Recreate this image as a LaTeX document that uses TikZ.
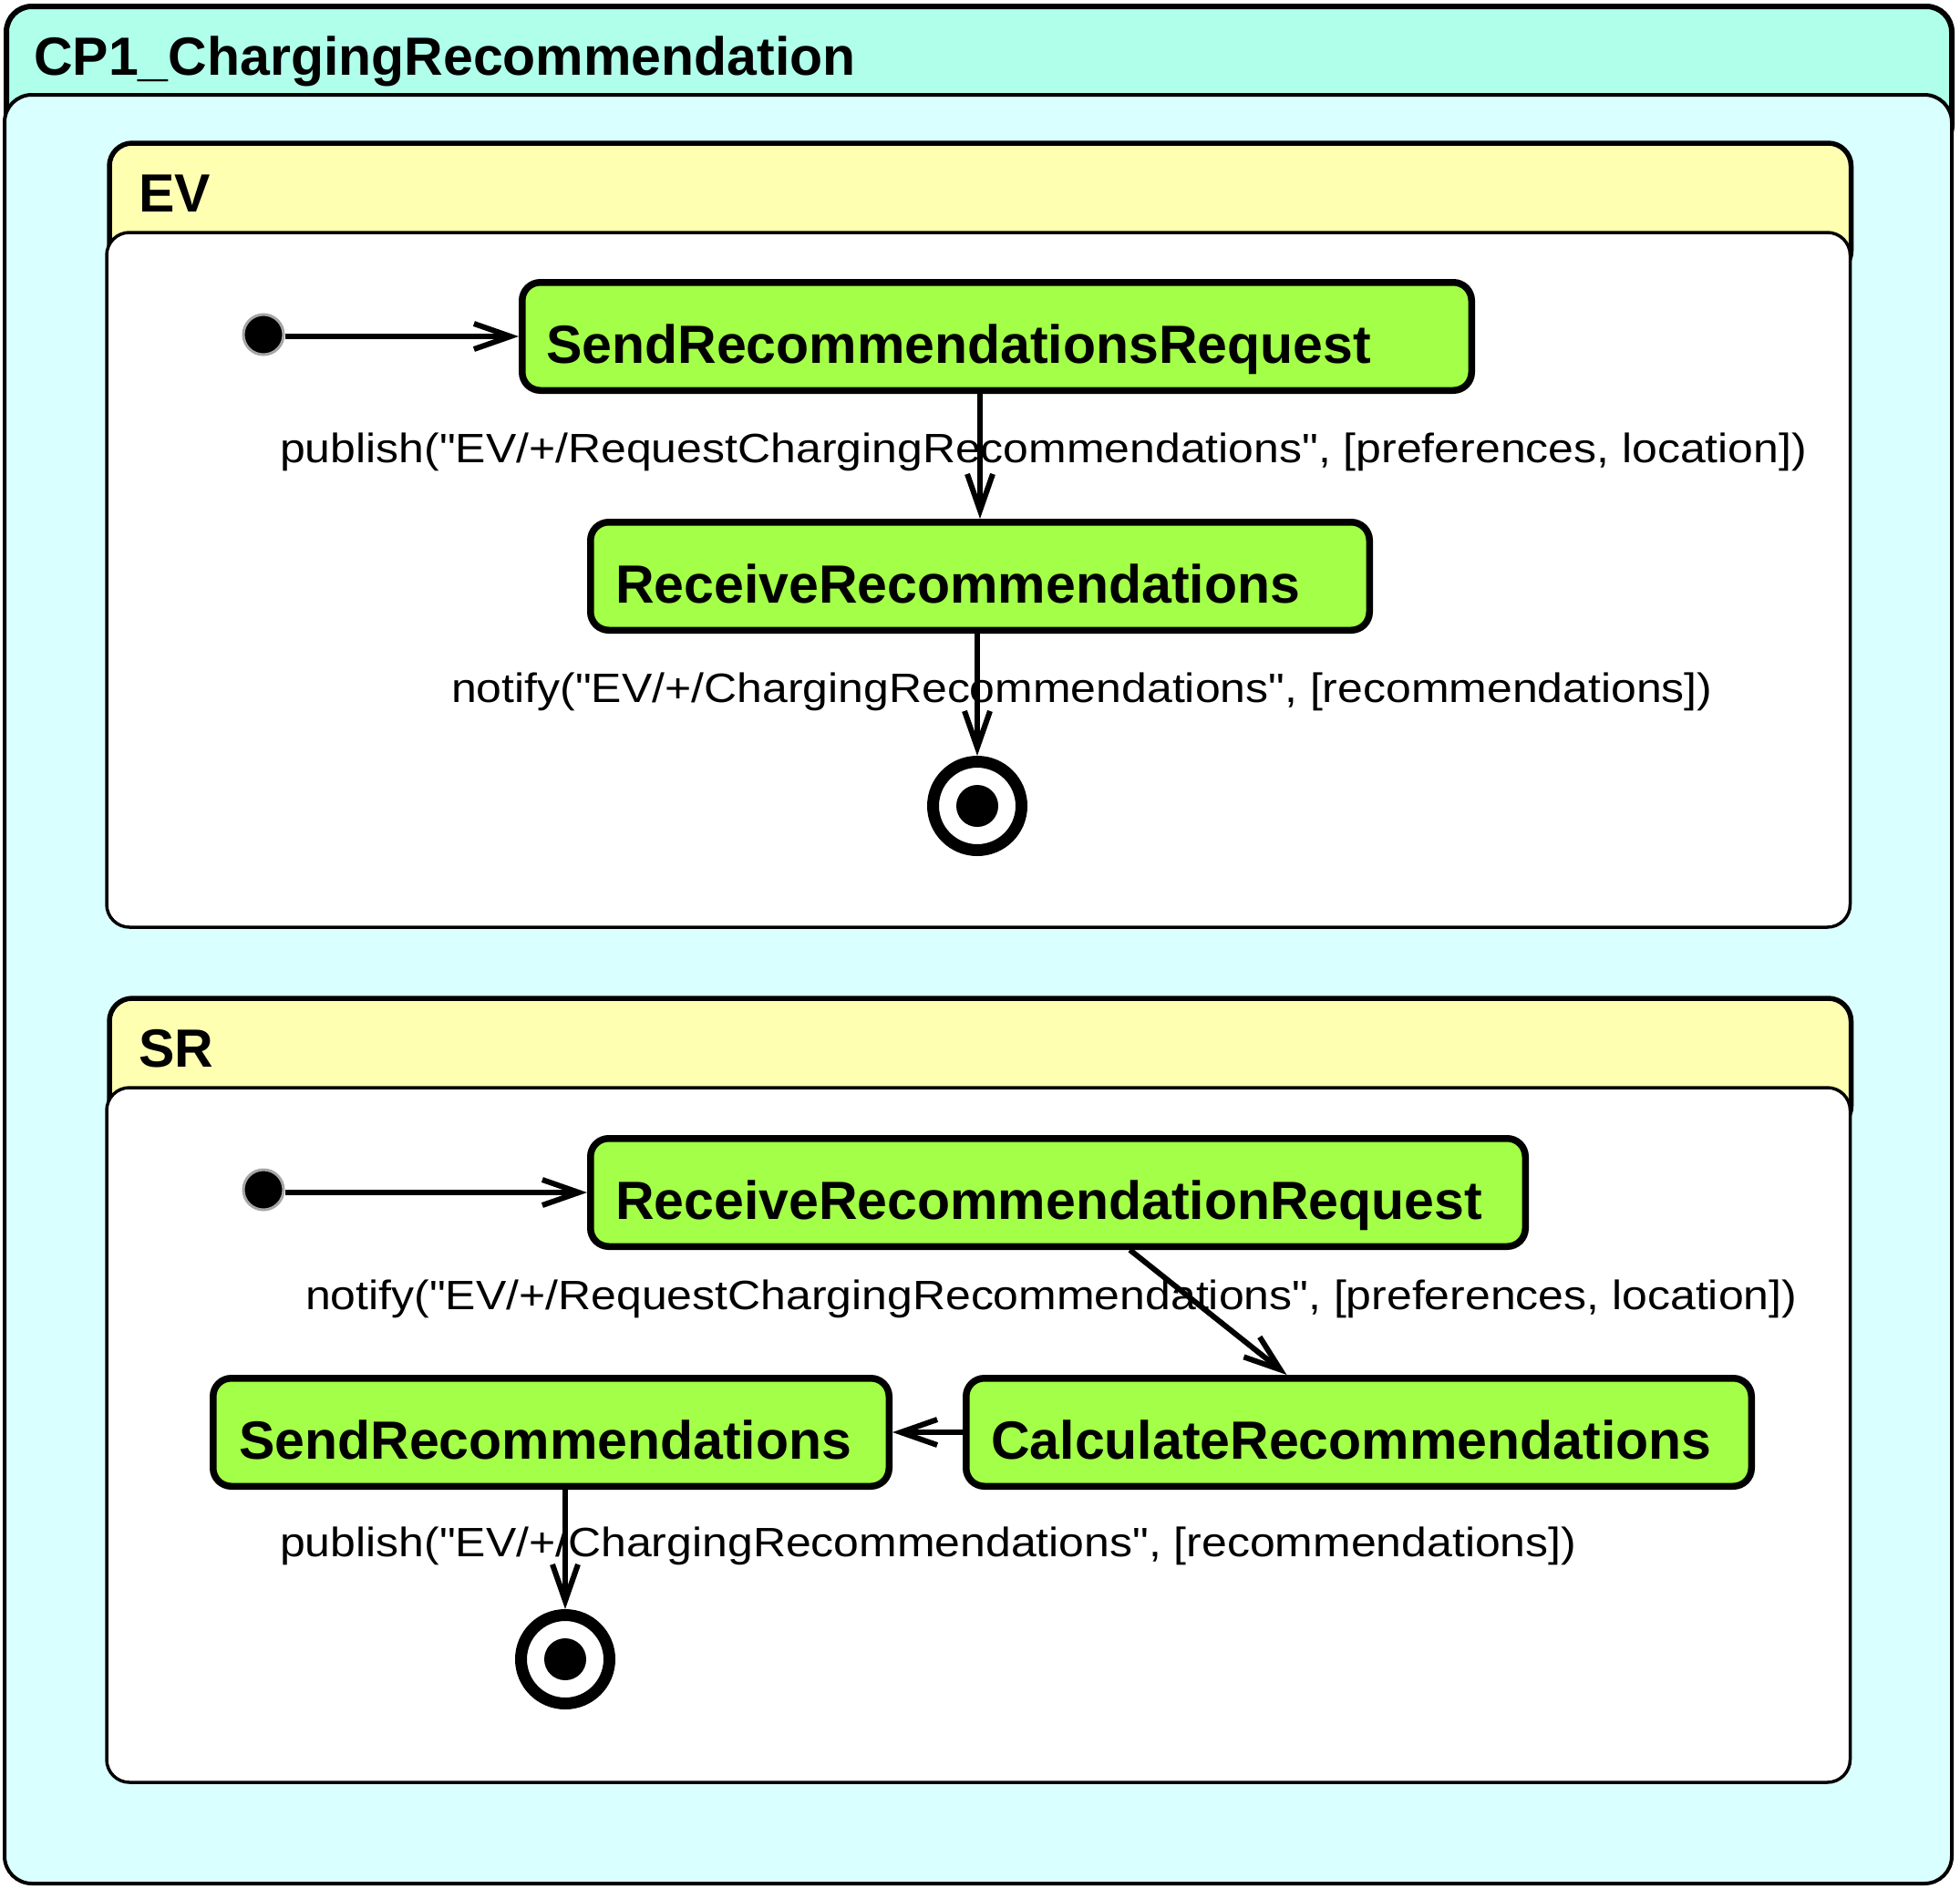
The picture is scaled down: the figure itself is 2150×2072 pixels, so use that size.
\documentclass[tikz,border=0pt]{standalone}
\usepackage{fontspec}
\setmainfont{Liberation Sans}
\newfontfamily\lblfont[FakeStretch=1.11]{Liberation Sans}
\usetikzlibrary{arrows.meta,calc}
\definecolor{hdraqua}{HTML}{AFFFEB}
\definecolor{bodyaqua}{HTML}{DAFFFF}
\definecolor{hdryellow}{HTML}{FFFFB2}
\definecolor{stgreen}{HTML}{A3FF47}
\begin{document}
\begin{tikzpicture}[x=1pt,y=-1pt,
  outerhdr/.style={draw=black,fill=hdraqua,line width=6pt,rounded corners=28pt},
  outerbody/.style={draw=black,fill=bodyaqua,line width=4pt,rounded corners=30pt},
  reghdr/.style={draw=black,fill=hdryellow,line width=5.5pt,rounded corners=25pt},
  regbody/.style={draw=black,fill=white,line width=3.5pt,rounded corners=25pt},
  titletext/.style={inner sep=0pt,anchor=base west,font=\fontsize{59}{70}\selectfont\bfseries},
  statebox/.style={draw=black,fill=stgreen,line width=7.5pt,rounded corners=20pt,inner sep=0pt,anchor=north west,minimum height=118.5pt},
  stlabel/.style={inner sep=0pt,anchor=base west,font=\fontsize{59}{70}\selectfont\bfseries},
  trlabel/.style={inner sep=0pt,anchor=base west,font=\lblfont\fontsize{45}{54}\selectfont},
  initst/.style={circle,fill=black,draw=black!35,line width=3pt,minimum size=44pt,inner sep=0pt},
  finalst/.style={circle,fill=white,draw=black,line width=13pt,minimum size=97pt,inner sep=0pt},
  finaldot/.style={circle,fill=black,minimum size=46pt,inner sep=0pt},
  tr/.style={draw=black,line width=6pt,-{Straight Barb[length=40pt,width=28pt]}}
]
\useasboundingbox (0,0) rectangle (2150,2072);
% outer frame
\draw[outerhdr] (7,7) rectangle (2141,165);
\draw[outerbody] (5,104) rectangle (2141,2066);
\node[titletext] (title) at (37,82) {CP1\_ChargingRecommendation};
% EV region
\draw[reghdr] (120,157) rectangle (2030.5,300);
\draw[regbody] (117,255) rectangle (2029.5,1017);
\node[titletext] (evt) at (152,232) {EV};
% SR region
\draw[reghdr] (120,1095) rectangle (2030.5,1238);
\draw[regbody] (117,1193) rectangle (2029.5,1955);
\node[titletext] (srt) at (152,1170) {SR};

% EV states
\node[statebox,minimum width=1041.5pt] (s1) at (569,306) {};
\node[stlabel] (s1t) at ($(s1.north west)+(30,92)$) {SendRecommendationsRequest};
\node[statebox,minimum width=854.5pt] (r1) at (644,569) {};
\node[stlabel] (r1t) at ($(r1.north west)+(31,92)$) {ReceiveRecommendations};
\node[initst] (i1) at (289,367) {};
\node[finalst] (f1) at (1072,884) {};
\node[finaldot] (f1d) at (f1.center) {};

\draw[tr] (i1.east |- s1.west) -- (s1.west);
\draw[tr] (s1.south -| r1.north) -- (r1.north);
\draw[tr] (r1.south -| f1.north) -- (f1.north);
\node[trlabel] (l1) at (307,507) {publish("EV/+/RequestChargingRecommendations", [preferences, location])};
\node[trlabel] (l2) at (495,770) {notify("EV/+/ChargingRecommendations", [recommendations])};

% SR states
\node[statebox,minimum width=1025.5pt] (rrr) at (644,1245) {};
\node[stlabel] (rrrt) at ($(rrr.north west)+(31,92)$) {ReceiveRecommendationRequest};
\node[statebox,minimum width=861.5pt] (calc) at (1056,1508) {};
\node[stlabel] (calct) at ($(calc.north west)+(31,92)$) {CalculateRecommendations};
\node[statebox,minimum width=741.5pt] (send) at (230,1508) {};
\node[stlabel] (sendt) at ($(send.north west)+(32,92)$) {SendRecommendations};
\node[initst] (i2) at (289,1305) {};
\node[finalst] (f2) at (620,1820) {};
\node[finaldot] (f2d) at (f2.center) {};

\draw[tr] (i2.east |- rrr.west) -- (rrr.west);
\draw[tr] (rrr) -- (calc);
\draw[tr] (calc) -- (send);
\draw[tr] (send.south -| f2.north) -- (f2.north);
\node[trlabel] (l3) at (335,1436) {notify("EV/+/RequestChargingRecommendations", [preferences, location])};
\node[trlabel] (l4) at (307,1707) {publish("EV/+/ChargingRecommendations", [recommendations])};
\end{tikzpicture}
\end{document}
